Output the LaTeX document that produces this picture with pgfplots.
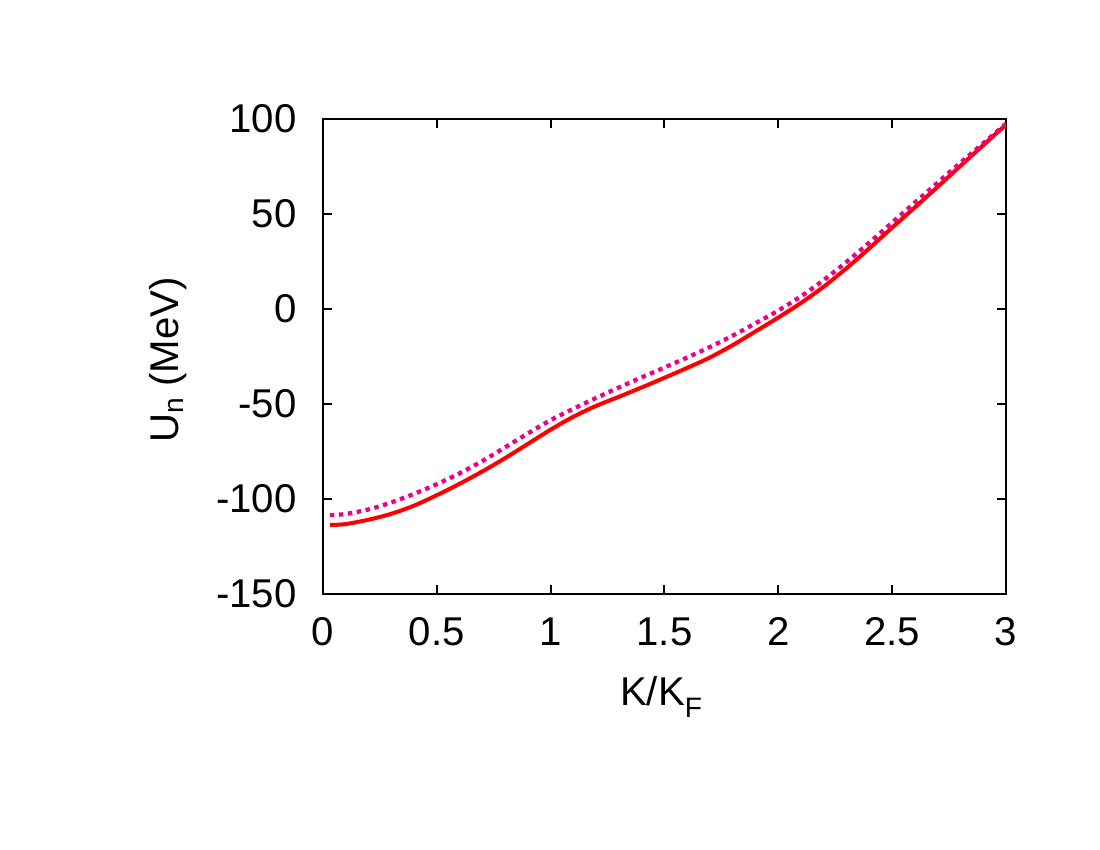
\documentclass[border=0pt]{standalone}
\usepackage{fontspec}
\setmainfont{Liberation Sans}
\usepackage{pgfplots}
\pgfplotsset{compat=1.18}
% gnuplot-like subscript: smaller and dropped by #1
\newcommand{\lowsub}[2]{\raisebox{-#1}{\fontsize{11.2}{12}\selectfont #2}}

\begin{document}
\fontsize{16}{18}\selectfont
\begin{tikzpicture}
\useasboundingbox (-4.522cm,-3.584cm) rectangle (10.878cm,8.316cm);
\begin{axis}[
    at={(0,0)}, anchor=south west,
    scale only axis,
    width=9.562cm,
    height=6.65cm,
    xmin=0, xmax=3,
    ymin=-150, ymax=100,
    xtick={0,0.5,...,3},
    ytick={-150,-100,...,100},
    tick align=inside,
    major tick length=0.13cm,
    axis line style={line width=0.8pt},
    every tick/.style={black, line width=0.8pt},
    /pgf/number format/assume math mode=true,
    tick label style={font=\fontsize{16}{18}\selectfont},
    xticklabel style={yshift=-4pt},
    yticklabel style={xshift=-5pt},
    label style={font=\fontsize{16}{18}\selectfont},
    xlabel={K/K\lowsub{5pt}{F}},
    ylabel={U\lowsub{2pt}{n} (MeV)},
    xlabel style={at={(axis description cs:0.495,-0.234)}, anchor=base},
    ylabel style={at={(axis description cs:-0.212,0.493)}, anchor=base},
]
% solid red curve
\addplot[red, line width=1.6pt, smooth] coordinates {
    (0.03,-113.7) (0.1,-113.2) (0.2,-110.9) (0.3,-107.8) (0.4,-103.5)
    (0.5,-98) (0.6,-92) (0.7,-85.5) (0.8,-78.5) (0.9,-71)
    (1.0,-63.5) (1.1,-56.7) (1.2,-51) (1.3,-46.2) (1.4,-41.3)
    (1.5,-36.2) (1.6,-31) (1.7,-25.5) (1.8,-19) (1.9,-11.8)
    (2.0,-4.5) (2.1,3.2) (2.2,11.8) (2.3,21.5) (2.4,32)
    (2.5,42.8) (2.6,53.5) (2.7,64.3) (2.8,75.3) (2.9,86.2) (3.0,97)
};
% dotted magenta curve
\addplot[magenta, line width=1.7pt, dash pattern=on 1.8pt off 1.8pt, smooth] coordinates {
    (0.03,-108.5) (0.1,-107.9) (0.2,-105.5) (0.3,-101.8) (0.4,-97.3)
    (0.5,-92.2) (0.6,-86.5) (0.7,-80) (0.8,-72.8) (0.9,-65.5)
    (1.0,-58.5) (1.1,-52.5) (1.2,-46.8) (1.3,-41.3) (1.4,-36)
    (1.5,-30.8) (1.6,-25.5) (1.7,-20) (1.8,-14) (1.9,-7.5)
    (2.0,-0.8) (2.1,6.7) (2.2,15.3) (2.3,24.8) (2.4,35)
    (2.5,45.5) (2.6,56) (2.7,66.5) (2.8,77) (2.9,87.2) (3.0,97.5)
};
\end{axis}
\end{tikzpicture}
\end{document}
